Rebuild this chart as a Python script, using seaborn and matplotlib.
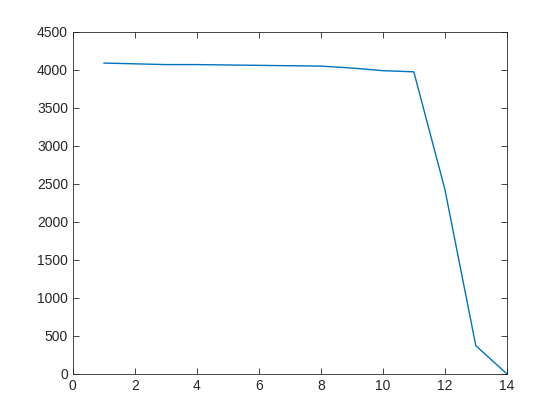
import seaborn as sns
import pandas as pd
import matplotlib.pyplot as plt

iters = [1, 2, 3, 4, 5, 6, 7, 8, 9, 10, 11, 12, 13, 14]
vals = [4085, 4075, 4065, 4065, 4060, 4055, 4050, 4045, 4020, 3985, 3970, 2430, 370, 0]

sns.set_style('white')
plt.rcParams['font.family'] = ['Liberation Sans', 'DejaVu Sans']
plt.rcParams['xtick.direction'] = 'in'
plt.rcParams['ytick.direction'] = 'in'

df = pd.DataFrame({'x': iters, 'y': vals})
fig = plt.figure(figsize=(5.6, 4.2), dpi=100)
ax = fig.add_axes([0.13, 0.11, 0.775, 0.815])
sns.lineplot(data=df, x='x', y='y', color='#0072BD', linewidth=1, ax=ax)
ax.set_xlim(0, 14)
ax.set_ylim(0, 4500)
ax.set_xticks(range(0, 15, 2))
ax.set_yticks(range(0, 4501, 500))
ax.set_xlabel('')
ax.set_ylabel('')
ax.tick_params(labelsize=10, colors='#262626', length=4, width=0.6,
               top=True, right=True, bottom=True, left=True)
for s in ax.spines.values():
    s.set_color('#262626')
    s.set_linewidth(0.6)
fig.savefig('out.png', dpi=100)
